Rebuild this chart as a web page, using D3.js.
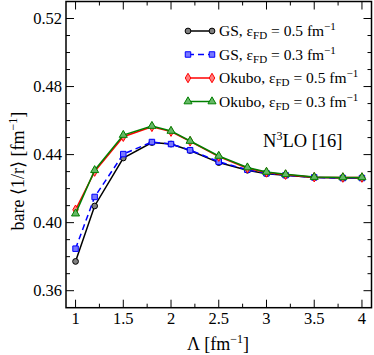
<!DOCTYPE html>
<html><head><meta charset="utf-8">
<script src="https://cdn.jsdelivr.net/npm/d3@7"></script>
<style>body{margin:0;background:#fff}svg{display:block}text{font-family:"Liberation Serif","Times New Roman",serif;fill:#000}</style>
</head><body>
<script>
const lambda = [1.0,1.2,1.5,1.8,2.0,2.2,2.5,2.8,3.0,3.2,3.5,3.8,4.0];
const gs05   = [0.3772,0.4098,0.4380,0.4471,0.4462,0.4424,0.4353,0.4308,0.4288,0.4278,0.4265,0.4262,0.4262];
const gs03   = [0.3847,0.4151,0.4403,0.4474,0.4462,0.4426,0.4358,0.4311,0.4290,0.4279,0.4266,0.4262,0.4262];
const ok05   = [0.4076,0.4300,0.4505,0.4563,0.4535,0.4478,0.4388,0.4320,0.4295,0.4282,0.4267,0.4265,0.4265];
const ok03   = [0.4053,0.4308,0.4515,0.4568,0.4539,0.4480,0.4392,0.4324,0.4298,0.4284,0.4268,0.4266,0.4266];
const xTicks = [1,1.5,2,2.5,3,3.5,4];
const yTicks = [0.36,0.40,0.44,0.48,0.52];
const seriesNames = ["GS","GS","Okubo","Okubo"];
const seriesEps = ["0.5","0.3","0.5","0.3"];

const W=374,H=355;
const m={l:66,r:371.5,t:1.5,b:307.7};
const svg=d3.select("body").append("svg").attr("width",W).attr("height",H);
const x=d3.scaleLinear().domain([0.9,4.1]).range([m.l,m.r]);
const y=d3.scaleLinear().domain([0.35,0.53]).range([m.b,m.t]);

const series=[
 {vals:gs05,color:"#000",fill:"#808080",sym:d3.symbolCircle,size:26,dash:null},
 {vals:gs03,color:"#0000ff",fill:"#7878ff",sym:d3.symbolSquare,size:30,dash:"6,4"},
 {vals:ok05,color:"#ff0000",fill:"#ff8080",sym:d3.symbolDiamond,size:26,dash:null},
 {vals:ok03,color:"#008000",fill:"#66b866",sym:d3.symbolTriangle,size:28,dash:null}
];

const minorX=d3.range(1,4.01,0.25), minorY=d3.range(0.36,0.5301,0.01);
const g=svg.append("g").attr("stroke","#000").attr("stroke-width",1);
minorX.forEach(v=>{
  const isMaj=xTicks.some(t=>Math.abs(t-v)<1e-6), L=isMaj?8:4;
  g.append("line").attr("x1",x(v)).attr("x2",x(v)).attr("y1",m.b).attr("y2",m.b-L);
  g.append("line").attr("x1",x(v)).attr("x2",x(v)).attr("y1",m.t).attr("y2",m.t+L);
});
minorY.forEach(v=>{
  const isMaj=yTicks.some(t=>Math.abs(t-v)<1e-6), L=isMaj?8:4;
  g.append("line").attr("y1",y(v)).attr("y2",y(v)).attr("x1",m.l).attr("x2",m.l+L);
  g.append("line").attr("y1",y(v)).attr("y2",y(v)).attr("x1",m.r).attr("x2",m.r-L);
});
xTicks.forEach(v=>svg.append("text").attr("x",x(v)).attr("y",324).attr("text-anchor","middle").attr("font-size",16.5).text(String(v)));
yTicks.forEach(v=>svg.append("text").attr("x",62).attr("y",y(v)+5.5).attr("text-anchor","end").attr("font-size",16.5).text(v.toFixed(2)));

const line=d3.line().x((d,i)=>x(lambda[i])).y(d=>y(d));
series.forEach(s=>{
  svg.append("path").attr("d",line(s.vals)).attr("fill","none").attr("stroke",s.color).attr("stroke-width",1.5).attr("stroke-dasharray",s.dash);
  s.vals.forEach((v,i)=>{
    svg.append("path").attr("d",d3.symbol().type(s.sym).size(s.size)()).attr("transform",`translate(${x(lambda[i])},${y(v)})`)
      .attr("fill",s.fill).attr("stroke",s.color).attr("stroke-width",1);
  });
});

svg.append("rect").attr("x",m.l).attr("y",m.t).attr("width",m.r-m.l).attr("height",m.b-m.t).attr("fill","none").attr("stroke","#000").attr("stroke-width",1.5);

const rows=[31,54.5,78,101.5];
series.forEach((s,i)=>{
  const yy=rows[i];
  svg.append("line").attr("x1",188).attr("x2",212).attr("y1",yy).attr("y2",yy).attr("stroke",s.color).attr("stroke-width",1.5).attr("stroke-dasharray",s.dash);
  [188,212].forEach(xx=>svg.append("path").attr("d",d3.symbol().type(s.sym).size(s.size)()).attr("transform",`translate(${xx},${yy})`).attr("fill",s.fill).attr("stroke",s.color));
  const t=svg.append("text").attr("x",219).attr("y",yy+5).attr("font-size",15.5);
  t.append("tspan").text(seriesNames[i]+", ε");
  t.append("tspan").attr("dy",3).attr("font-size",11).text("FD");
  t.append("tspan").attr("dy",-3).text(" = "+seriesEps[i]+" fm");
  t.append("tspan").attr("dy",-6).attr("font-size",11).text("−1");
});

const a=svg.append("text").attr("x",263).attr("y",147).attr("font-size",18.5);
a.append("tspan").text("N");
a.append("tspan").attr("dy",-7).attr("font-size",12).text("3");
a.append("tspan").attr("dy",7).text("LO [16]");

const xl=svg.append("text").attr("x",218).attr("y",350).attr("text-anchor","middle").attr("font-size",18);
xl.append("tspan").text("Λ [fm");
xl.append("tspan").attr("dy",-7).attr("font-size",12).text("−1");
xl.append("tspan").attr("dy",7).text("]");
const yl=svg.append("text").attr("transform","translate(24,171) rotate(-90)").attr("text-anchor","middle").attr("font-size",18);
yl.append("tspan").text("bare ⟨1/r⟩ [fm");
yl.append("tspan").attr("dy",-7).attr("font-size",12).text("−1");
yl.append("tspan").attr("dy",7).text("]");
</script>
</body></html>
